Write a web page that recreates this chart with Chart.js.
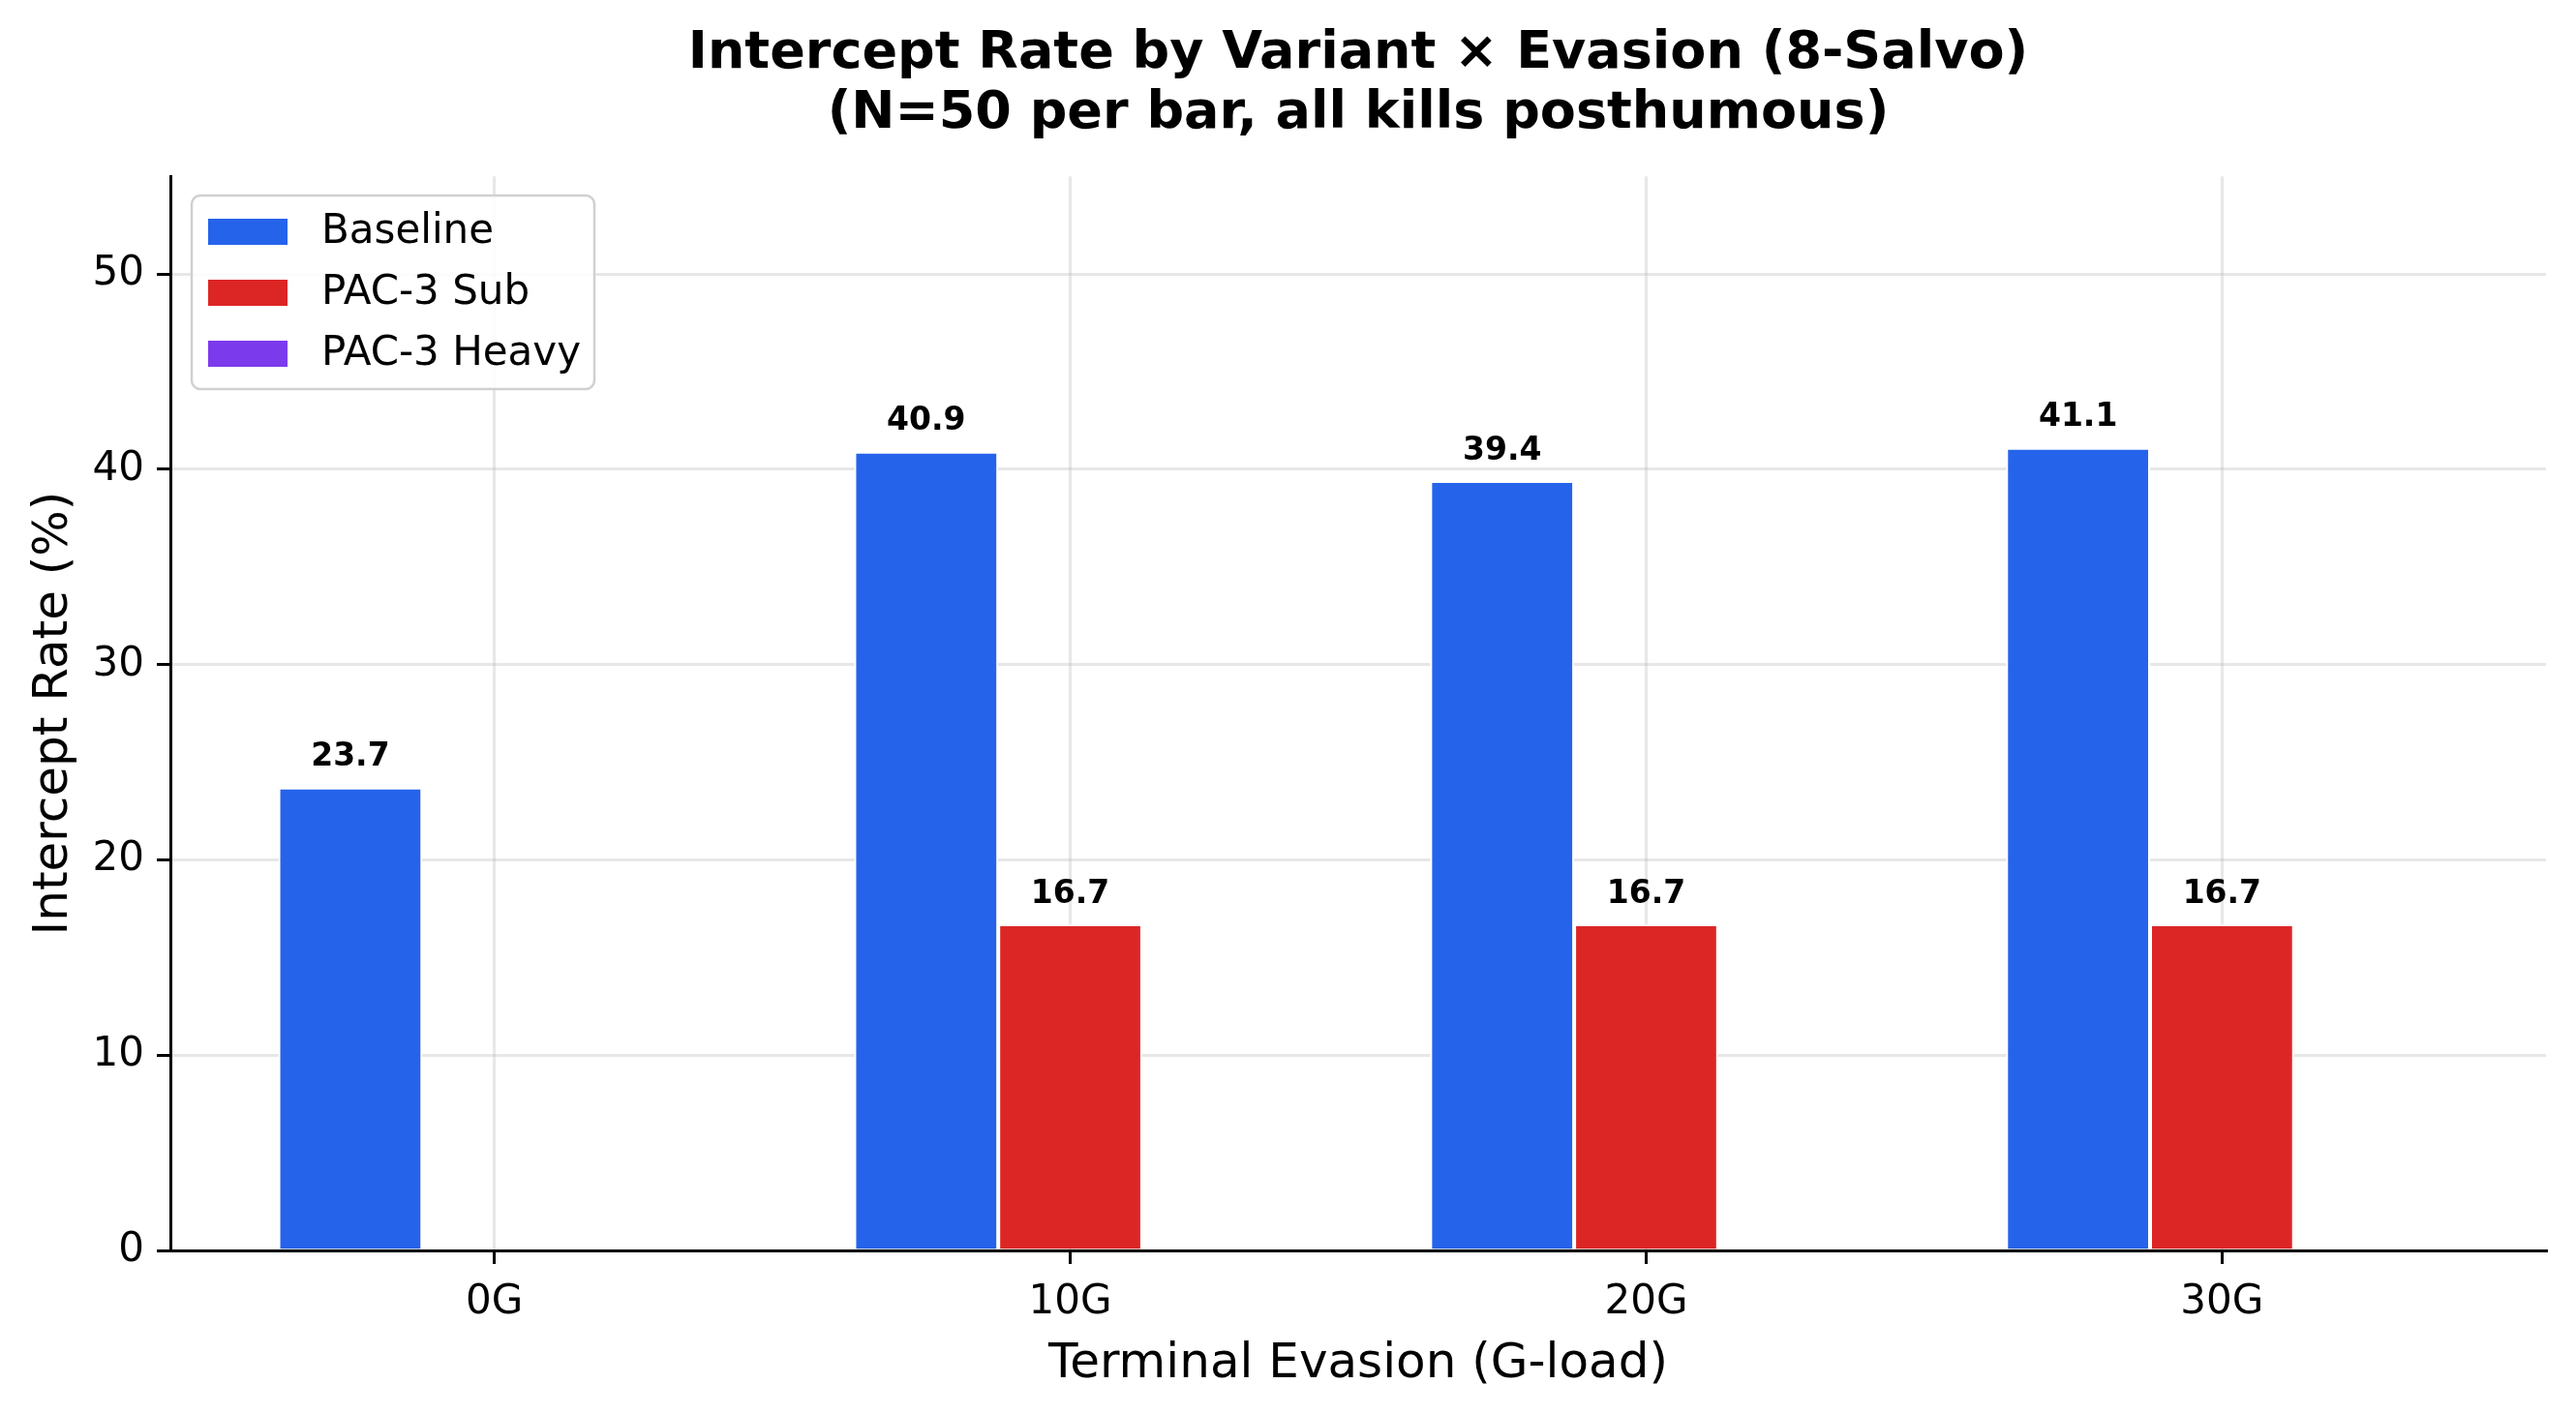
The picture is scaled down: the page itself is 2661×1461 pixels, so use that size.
<!DOCTYPE html>
<html>
<head>
<meta charset="utf-8">
<title>Intercept Rate by Variant × Evasion</title>
<script src="https://cdn.jsdelivr.net/npm/chart.js@4.4.1/dist/chart.umd.min.js"></script>
<style>
  html, body { margin: 0; padding: 0; background: #fff; }
  #wrap { width: 2661px; height: 1461px; }
</style>
</head>
<body>
<div id="wrap"><canvas id="chart" width="2661" height="1461"></canvas></div>
<script>
/* ---------------- data ---------------- */
const categories = ['0G', '10G', '20G', '30G'];
const seriesNames = ['Baseline', 'PAC-3 Sub', 'PAC-3 Heavy'];
const baseline = [23.7, 40.9, 39.4, 41.1];
const pac3Sub = [0, 16.7, 16.7, 16.7];
const pac3Heavy = [0, 0, 0, 0];
const yTicks = [0, 10, 20, 30, 40, 50];

const COLORS = ['#2563eb', '#dc2626', '#7c3aed'];
const FONT = "'DejaVu Sans', 'Liberation Sans', sans-serif";

function toPoints(arr) {
  return arr.map((v, i) => ({ x: i, y: v }));
}

/* ---------------- value labels above bars ---------------- */
const valueLabels = {
  id: 'valueLabels',
  afterDatasetsDraw(chart) {
    const ctx = chart.ctx;
    ctx.save();
    ctx.font = 'bold 33px ' + FONT;
    ctx.fillStyle = '#000';
    ctx.textAlign = 'center';
    ctx.textBaseline = 'middle';
    chart.data.datasets.forEach((ds, di) => {
      const meta = chart.getDatasetMeta(di);
      meta.data.forEach((bar, i) => {
        const v = ds.data[i].y;
        if (!v) return;
        ctx.fillText(v.toFixed(1), bar.x, bar.y - 31);
      });
    });
    ctx.restore();
  }
};

/* ---------------- legend box inside the plot ---------------- */
const boxLegend = {
  id: 'boxLegend',
  afterDraw(chart) {
    const ctx = chart.ctx;
    const x0 = 198, y0 = 202, w = 416, h = 200, r = 9;
    ctx.save();
    ctx.beginPath();
    ctx.roundRect(x0, y0, w, h, r);
    ctx.fillStyle = 'rgba(255,255,255,0.85)';
    ctx.fill();
    ctx.lineWidth = 2.5;
    ctx.strokeStyle = '#d0d0d0';
    ctx.stroke();
    ctx.font = '42px ' + FONT;
    ctx.textAlign = 'left';
    ctx.textBaseline = 'middle';
    chart.data.datasets.forEach((ds, i) => {
      const cy = y0 + 38 + i * 63;
      ctx.fillStyle = ds.backgroundColor;
      ctx.fillRect(x0 + 17, cy - 14, 82, 27);
      ctx.fillStyle = '#000';
      ctx.fillText(ds.label, x0 + 134, cy);
    });
    ctx.restore();
  }
};

const datasets = [baseline, pac3Sub, pac3Heavy].map((arr, i) => ({
  label: seriesNames[i],
  data: toPoints(arr),
  backgroundColor: COLORS[i],
  borderColor: '#ffffff',
  borderWidth: 2,
  categoryPercentage: 0.75,
  barPercentage: 1.0
}));

new Chart(document.getElementById('chart'), {
  type: 'bar',
  data: { datasets },
  options: {
    responsive: false,
    animation: false,
    devicePixelRatio: 1,
    layout: { padding: { top: 0, right: 31, bottom: 0, left: 0 } },
    plugins: {
      legend: { display: false },
      tooltip: { enabled: false },
      title: {
        display: true,
        fullSize: false,
        text: ['Intercept Rate by Variant × Evasion (8-Salvo)', '(N=50 per bar, all kills posthumous)'],
        color: '#000',
        font: { family: FONT, size: 54, weight: 'bold', lineHeight: 1.15 },
        padding: { top: 25, bottom: 33 }
      }
    },
    scales: {
      x: {
        type: 'linear',
        min: -0.5625,
        max: 3.5625,
        offset: false,
        z: 1,
        afterBuildTicks(scale) {
          scale.ticks = categories.map((_, i) => ({ value: i }));
        },
        afterFit(scale) { scale.height = 169; },
        ticks: {
          color: '#000',
          font: { family: FONT, size: 42 },
          padding: 15,
          callback: (v) => categories[v]
        },
        grid: {
          offset: false,
          color: 'rgba(176,176,176,0.3)',
          lineWidth: 3,
          tickColor: '#000',
          tickWidth: 3,
          tickLength: 14
        },
        border: { display: true, color: '#000', width: 3 },
        title: {
          display: true,
          text: 'Terminal Evasion (G-load)',
          color: '#000',
          font: { family: FONT, size: 50 },
          padding: { top: 0, bottom: 21 }
        }
      },
      y: {
        min: 0,
        max: 55,
        z: 1,
        afterBuildTicks(scale) {
          scale.ticks = yTicks.map(v => ({ value: v }));
        },
        afterFit(scale) { scale.width = 176; },
        ticks: {
          color: '#000',
          font: { family: FONT, size: 42 },
          padding: 13
        },
        grid: {
          color: 'rgba(176,176,176,0.3)',
          lineWidth: 3,
          tickColor: '#000',
          tickWidth: 3,
          tickLength: 14
        },
        border: { display: true, color: '#000', width: 3 },
        title: {
          display: true,
          text: 'Intercept Rate (%)',
          color: '#000',
          font: { family: FONT, size: 50 },
          padding: { top: 26, bottom: 0 }
        }
      }
    }
  },
  plugins: [valueLabels, boxLegend]
});
</script>
</body>
</html>
